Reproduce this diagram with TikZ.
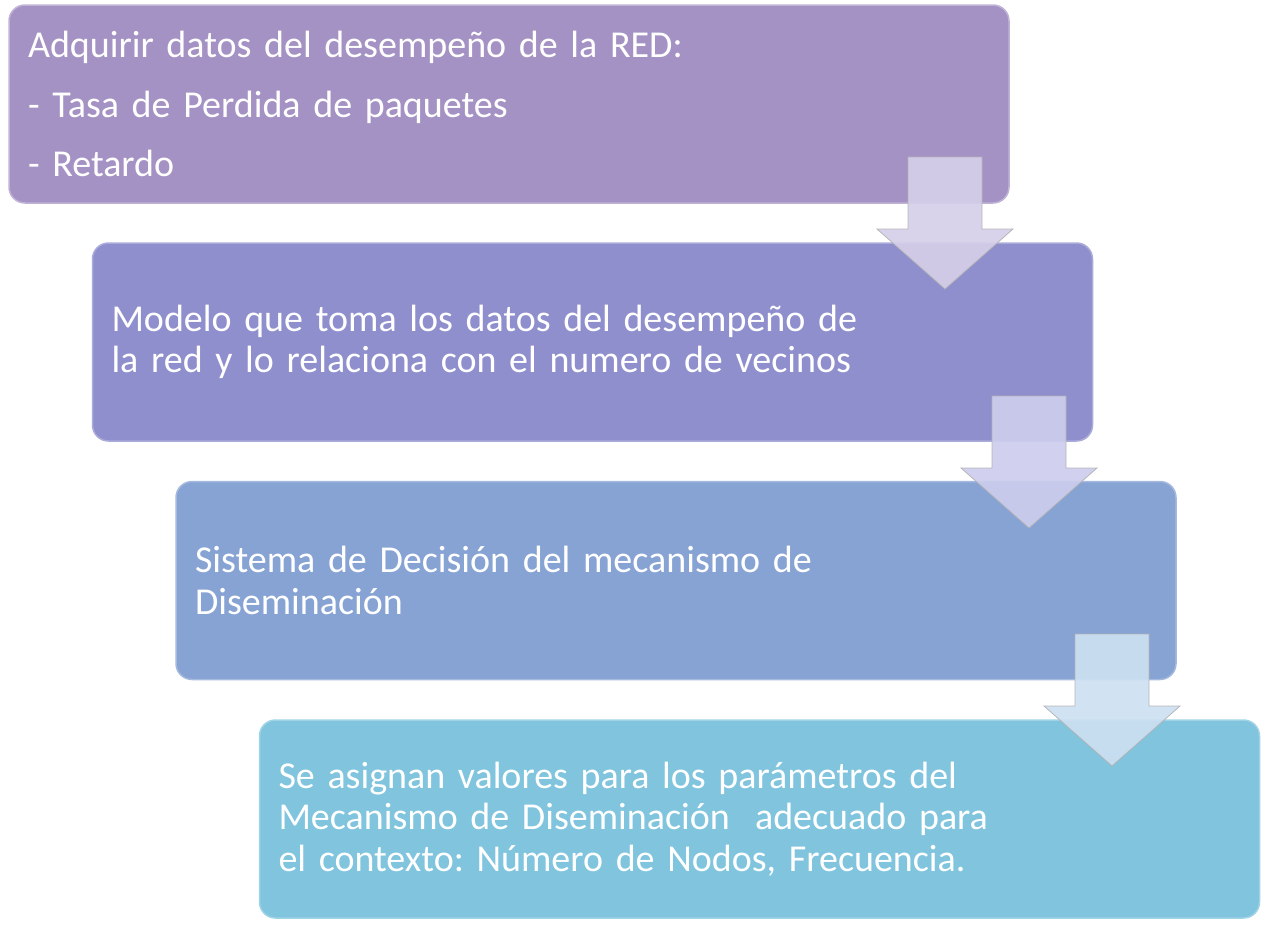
\documentclass[tikz,border=0pt]{standalone}
\usepackage{fontspec}
\setmainfont{Carlito}
\usetikzlibrary{positioning}
\definecolor{boxA}{HTML}{A592C4}
\definecolor{boxB}{HTML}{8F8FCE}
\definecolor{boxC}{HTML}{87A3D4}
\definecolor{boxD}{HTML}{80C4DE}
\definecolor{arrA}{HTML}{D5CFE9}
\definecolor{arrB}{HTML}{CDCDEE}
\definecolor{arrC}{HTML}{CDE0F2}
\frenchspacing

\begin{document}
\begin{tikzpicture}[x=1pt, y=-1pt]
    \tikzstyle{stepbox} = [rounded corners=16pt, minimum width=1000pt, minimum height=198pt,
      text width=962pt, inner xsep=19pt, inner ysep=0pt, align=left, text=white,
      font=\fontsize{38pt}{41.5pt}\selectfont, line width=1.5pt]
    \tikzstyle{flowarrow} = [draw=black!30, line width=0.8pt, opacity=0.92]
    \useasboundingbox (0,0) rectangle (1264,924);

    % process steps
    \node[stepbox, fill=boxA, draw=boxA!70!white] (s1) at (509,104)
      {Adquirir datos del desempeño de la RED:\\[18pt]- Tasa de Perdida de paquetes\\[18pt]- Retardo};
    \node[stepbox, fill=boxB, draw=boxB!75!white] (s2) at (592.5,342)
      {Modelo que toma los datos del desempeño de\\la red y lo relaciona con el numero de vecinos};
    \node[stepbox, fill=boxC, draw=boxC!75!white] (s3) at (676,580.5)
      {Sistema de Decisión del mecanismo de\\Diseminación};
    \node[stepbox, fill=boxD, draw=boxD!75!white] (s4) at (759.5,819)
      {Se asignan valores para los parámetros del\\Mecanismo de Diseminación~ adecuado para\\el contexto: Número de Nodos, Frecuencia.};

    % arrows between steps
    \coordinate (a1) at (945,157);
    \coordinate (a2) at (1029,396);
    \coordinate (a3) at (1112,634);
    \filldraw[flowarrow, fill=arrA] (a1) ++(-37,0) -- ++(74,0) -- ++(0,72) -- ++(31,0)
      -- ++(-68,60) -- ++(-68,-60) -- ++(31,0) -- cycle;
    \filldraw[flowarrow, fill=arrB] (a2) ++(-37,0) -- ++(74,0) -- ++(0,72) -- ++(31,0)
      -- ++(-68,60) -- ++(-68,-60) -- ++(31,0) -- cycle;
    \filldraw[flowarrow, fill=arrC] (a3) ++(-37,0) -- ++(74,0) -- ++(0,72) -- ++(31,0)
      -- ++(-68,60) -- ++(-68,-60) -- ++(31,0) -- cycle;
\end{tikzpicture}
\end{document}
